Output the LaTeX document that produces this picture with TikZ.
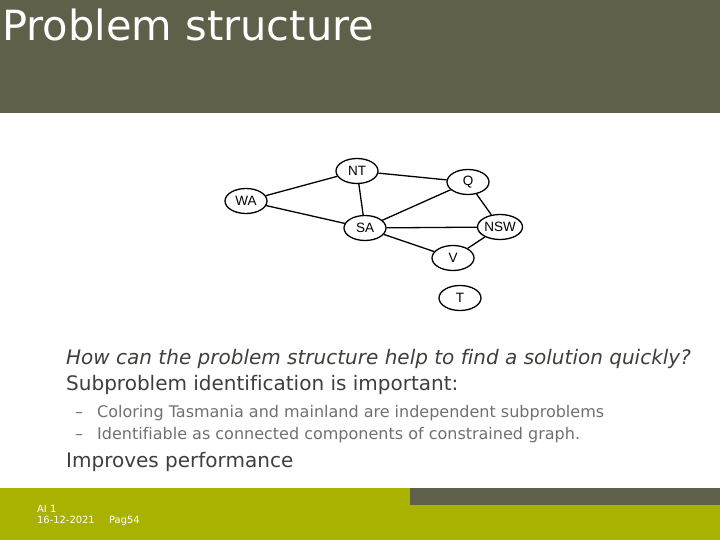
\documentclass[tikz,border=0pt]{standalone}
\usepackage{fontspec}
\setmainfont{DejaVu Sans}[Ligatures={TeX,NoCommon}]
\newfontfamily\graphfont{Liberation Sans}
\usetikzlibrary{shapes.geometric}

\definecolor{headolive}{RGB}{95,96,74}
\definecolor{footgreen}{RGB}{170,178,0}
\definecolor{bodygray}{RGB}{62,62,58}
\definecolor{subgray}{RGB}{112,112,108}

\tikzset{
  region/.style={draw, ellipse, line width=1.3pt, minimum width=42pt, minimum height=25pt,
                 inner sep=0pt, font=\graphfont\fontsize{13.5}{14}\selectfont},
  border/.style={line width=1.3pt},
  bodyline/.style={anchor=base west, inner sep=0pt, text=bodygray, font=\fontsize{20}{22}\selectfont},
  subline/.style={anchor=base west, inner sep=0pt, text=subgray, font=\fontsize{16}{18}\selectfont},
  footline/.style={anchor=base west, inner sep=0pt, text=white, font=\fontsize{9.9}{11}\selectfont},
}

\begin{document}
\begin{tikzpicture}[x=1pt, y=-1pt]
    \useasboundingbox (0,0) rectangle (720,540);

    % -- Testata --
    \fill[headolive] (0,0) rectangle (720,113);
    \node[anchor=base west, inner sep=0pt, text=white, font=\fontsize{41.6}{46}\selectfont] (title) at (2,41) {Problem structure};

    % -- Grafo dei vincoli --
    \node[region] (WA) at (246,201) {WA};
    \node[region] (NT) at (357,171) {NT};
    \node[region] (Q) at (468,182) {Q};
    \node[region] (SA) at (365,228) {SA};
    \node[region, minimum width=45pt] (NSW) at (500,227) {NSW};
    \node[region] (V) at (453,258) {V};
    \node[region] (T) at (460,298) {T};

    \draw[border] (WA) -- (NT);
    \draw[border] (WA) -- (SA);
    \draw[border] (NT) -- (SA);
    \draw[border] (NT) -- (Q);
    \draw[border] (SA) -- (Q);
    \draw[border] (Q) -- (NSW);
    \draw[border] (SA) -- (NSW);
    \draw[border] (SA) -- (V);
    \draw[border] (V) -- (NSW);

    % -- Testo --
    \node[bodyline, font=\itshape\fontsize{20}{22}\selectfont] (question) at (66,364) {How can the problem structure help to find a solution quickly?};
    \node[bodyline] (subprob) at (66,390) {Subproblem identification is important:};
    \node[subline] (dashA) at (75,417.5) {--};
    \node[subline] (itemA) at (97,417.5) {Coloring Tasmania and mainland are independent subproblems};
    \node[subline] (dashB) at (75,439.5) {--};
    \node[subline] (itemB) at (97,439.5) {Identifiable as connected components of constrained graph.};
    \node[bodyline] (perf) at (66,467) {Improves performance};

    % -- Piede --
    \fill[footgreen] (0,488) rectangle (720,540);
    \fill[headolive] (410,488) rectangle (720,505);
    \node[footline] (course) at (37,512) {AI 1};
    \node[footline] (date) at (37,523) {16-12-2021};
    \node[footline] (page) at (109,523) {Pag54};
\end{tikzpicture}
\end{document}
